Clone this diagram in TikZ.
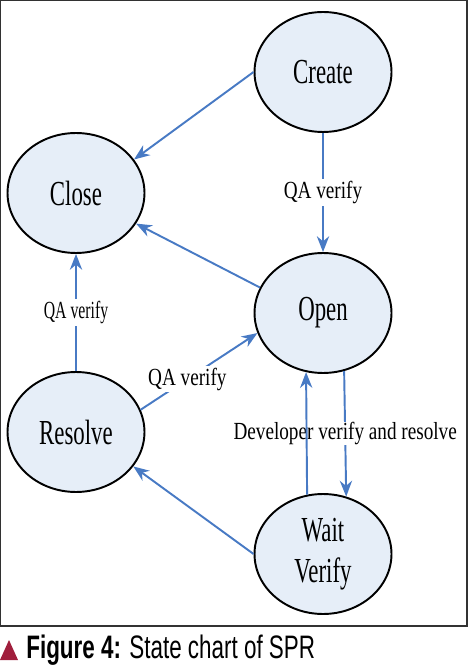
\documentclass[tikz,border=0pt]{standalone}
\usepackage{fontspec}
\setmainfont{Liberation Serif}
\newfontfamily\statefont[FakeStretch=0.65]{Liberation Serif}
\newfontfamily\labelfont[FakeStretch=0.78]{Liberation Serif}
\newfontfamily\narrowfont[FakeStretch=0.64]{Liberation Serif}
\newfontfamily\captionfont[FakeStretch=0.69]{Liberation Sans}
\usetikzlibrary{shapes.geometric,arrows.meta}
\definecolor{statefill}{RGB}{230,238,248}
\definecolor{edgeblue}{RGB}{72,122,196}
\definecolor{captionred}{RGB}{160,30,60}
\definecolor{framegray}{RGB}{50,50,50}

\begin{document}
\begin{tikzpicture}[x=0.02cm, y=-0.02cm,
    state/.style={ellipse, draw=black, line width=1.1pt, fill=statefill,
        minimum width=2.74cm, minimum height=2.4cm, inner sep=0pt, align=center,
        font=\statefont\fontsize{20}{23}\selectfont},
    trans/.style={draw=edgeblue, line width=1.1pt, -{Stealth[length=9pt,width=7pt]}},
    lbl/.style={fill=white, inner sep=1pt, font=\labelfont\fontsize{14}{14}\selectfont}]
    \useasboundingbox (0,0) rectangle (468,671);
    \draw[framegray, line width=0.8pt] (0.5,0.5) rectangle (467,626);

    \node[state] (create) at (323,72) {Create};
    \node[state] (close) at (76,193) {Close};
    \node[state] (open) at (323,313) {Open};
    \node[state] (resolve) at (76,432) {Resolve};
    \node[state] (wait) at (323,554) {Wait\\Verify};

    \draw[trans] (create.west) -- (close.30);
    \draw[trans] (create.south) -- node[lbl] {QA verify} (open.north);
    \draw[trans] (open.158) -- (close.-27);
    \draw[trans] (resolve.north) -- node[lbl, font=\narrowfont\fontsize{14}{14}\selectfont] {QA verify} (close.south);
    \draw[trans] (resolve.19) -- node[lbl, pos=0.4] {QA verify} (open.197);
    \draw[trans] (wait.west) -- (resolve.-31);
    \draw[trans] (open.-70) -- node[lbl, inner sep=0pt] {Developer verify and resolve} (wait.68);
    \draw[trans] (wait.105) -- (open.254);

    \fill[captionred] (0,660) -- (18,660) -- (9,640) -- cycle;
    \node[anchor=west, inner sep=0pt, font=\captionfont\fontsize{18.5}{18.5}\selectfont]
        (caption) at (26,650) {\textbf{Figure 4:} State chart of SPR};
\end{tikzpicture}
\end{document}
